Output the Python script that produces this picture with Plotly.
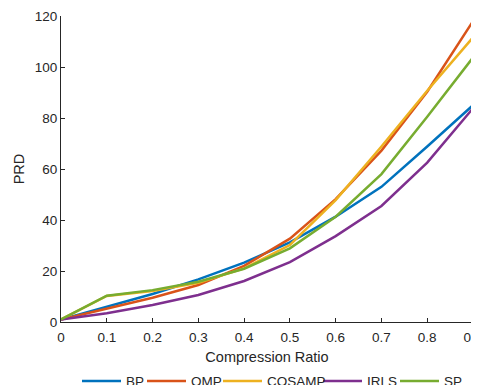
import plotly.graph_objects as go

x = [0, 0.1, 0.2, 0.3, 0.4, 0.5, 0.6, 0.7, 0.8, 0.9]
bp = [1, 6.0, 11.0, 16.7, 23.3, 31.2, 41.3, 53.0, 68.8, 85.0]
omp = [1, 5.4, 9.5, 14.5, 22.0, 32.7, 48.2, 67.2, 90.3, 118.0]
cosamp = [1, 10.2, 12.2, 15.4, 21.0, 30.2, 47.8, 68.8, 90.7, 111.6]
irls = [1, 3.4, 6.7, 10.6, 16.1, 23.5, 33.7, 45.5, 62.5, 83.8]
sp = [1, 10.3, 12.5, 15.8, 20.9, 28.9, 41.3, 58.0, 80.5, 103.7]

names = ["BP", "OMP", "COSAMP", "IRLS", "SP"]
series = [bp, omp, cosamp, irls, sp]
colors = ["#0072BD", "#D95319", "#EDB120", "#7E2F8E", "#77AC30"]

FONT = "Liberation Sans, Arial, Helvetica"
TXT = "#262626"

fig = go.Figure()
for n, s, c in zip(names, series, colors):
    fig.add_trace(go.Scatter(x=x, y=s, mode="lines", name=n, showlegend=False,
                             line=dict(color=c, width=2.5)))

axis_common = dict(showgrid=False, zeroline=False, showline=True, linecolor=TXT,
                   linewidth=1, ticks="inside", ticklen=4, tickcolor=TXT,
                   tickfont=dict(family=FONT, size=13.5, color=TXT),
                   mirror=False, automargin=False, ticklabeloverflow="allow")
fig.update_xaxes(range=[0, 0.9], tickvals=x,
                 ticktext=["0", "0.1", "0.2", "0.3", "0.4", "0.5", "0.6", "0.7", "0.8", "0.9"],
                 ticklabelstandoff=3,
                 title=dict(text="Compression Ratio", font=dict(family=FONT, size=14.5, color=TXT), standoff=7),
                 **axis_common)
fig.update_yaxes(range=[0, 120], tickvals=[0, 20, 40, 60, 80, 100, 120],
                 title=dict(text="PRD", font=dict(family=FONT, size=14.5, color=TXT), standoff=6),
                 **axis_common)

# page body has an 8px margin: plot area in the window spans x 61..473, y 16..322
L, T = 53, 8
W = 412.0
H = 306.0
R = 479 - L - W
B = 385 - T - H

# manual legend (horizontal, below the axes, as in the reference)
leg_px = [82, 147, 223, 323, 400]   # window px of sample line starts
leg_y = (322 - 381) / H
for n, c, px in zip(names, colors, leg_px):
    x0 = (px - 61) / W
    x1 = (px + 39 - 61) / W
    fig.add_shape(type="line", xref="paper", yref="paper", x0=x0, x1=x1, y0=leg_y, y1=leg_y,
                  line=dict(color=c, width=2.5))
    fig.add_annotation(xref="paper", yref="paper", x=(px + 42 - 61) / W, y=leg_y,
                       text=n, showarrow=False, xanchor="left", yanchor="middle",
                       font=dict(family=FONT, size=13.5, color=TXT))

fig.update_layout(
    width=479, height=385,
    margin=dict(l=L, r=R, t=T, b=B, pad=0, autoexpand=False),
    plot_bgcolor="white", paper_bgcolor="white",
    showlegend=False,
)

fig.write_html("out.html")
